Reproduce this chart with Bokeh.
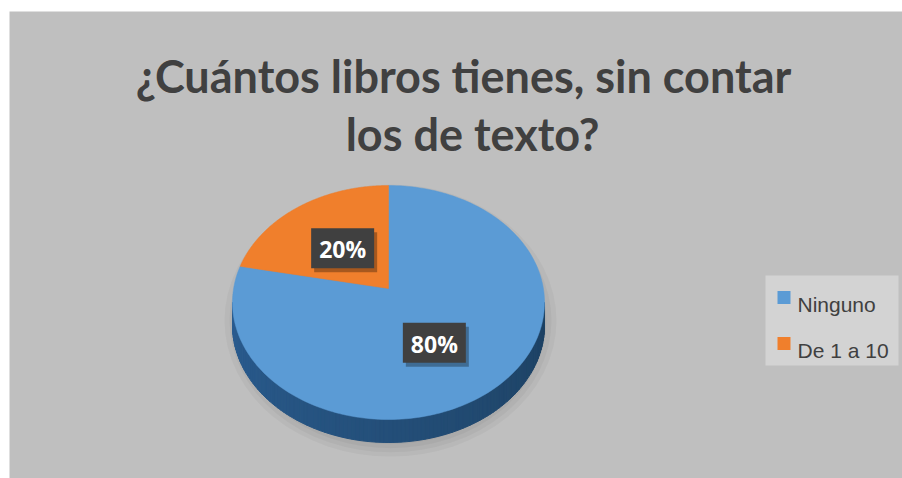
import numpy as np
from bokeh.plotting import figure
from bokeh.models import Range1d
from bokeh.core.properties import value
from bokeh.embed import file_html
from bokeh.resources import INLINE

# ---- data ----
title_lines = ["¿Cuántos libros tienes, sin contar", "los de texto?"]
categories = ["Ninguno", "De 1 a 10"]
values = [80, 20]
colors = ["#5b9bd5", "#f07f2c"]

# ---- figure (data units == screen pixels, y grows downward) ----
W, H = 902, 478
p = figure(width=W, height=H, x_range=Range1d(0, W), y_range=Range1d(H, 0),
           output_backend="svg", toolbar_location=None, title=None,
           x_axis_location=None, y_axis_location=None, min_border=0,
           background_fill_color="white", border_fill_color="white",
           outline_line_color=None)
p.grid.visible = False

# chart area background
p.quad(left=[9], right=[902], top=[11], bottom=[478], fill_color="#bfbfbf", line_color=None)

# ---- title ----
p.text(x=[463], y=[75], text=[title_lines[0]], text_font=value("Lato"), text_font_style="bold",
       text_font_size="45px", text_color="#404040", text_align="center", text_baseline="alphabetic")
p.text(x=[472], y=[133], text=[title_lines[1]], text_font=value("Lato"), text_font_style="bold",
       text_font_size="45px", text_color="#404040", text_align="center", text_baseline="alphabetic")

# ---- 3D pie geometry ----
cx, cy = 388.0, 302.0
a, b = 156.0, 117.0
depth = 23.0
vx, vy = 388.0, 288.0

total = float(sum(values))
fracs = [v / total for v in values]
bounds = np.concatenate([[0.0], np.cumsum(fracs)])  # clockwise from 12 o'clock


def ell(t):
    return cx + a * np.cos(t), cy - b * np.sin(t)


# soft shadow
for k in range(8):
    s = 1.0 - k * 0.03
    p.ellipse(x=[390], y=[320], width=[2 * 166 * s], height=[2 * 136 * s],
              fill_color="black", fill_alpha=0.035, line_color=None)


def slice_of(tdeg):
    off = ((90.0 - tdeg) % 360.0) / 360.0
    for i in range(len(values)):
        if bounds[i] <= off < bounds[i + 1]:
            return i
    return len(values) - 1


def hex2rgb(h):
    h = h.lstrip("#")
    return [int(h[j:j + 2], 16) for j in (0, 2, 4)]


# side wall (front half)
n = 120
ts = np.linspace(180.0, 360.0, n + 1)
xs_side, ys_side, cols_side = [], [], []
for j in range(n):
    t0, t1 = np.radians(ts[j]), np.radians(ts[j + 1])
    tm = 0.5 * (ts[j] + ts[j + 1])
    i = slice_of(tm)
    r, g, bl = hex2rgb(colors[i])
    u = (tm - 180.0) / 180.0
    fr = 0.47 - 0.15 * u
    fg = 0.60 - 0.18 * u
    fb = 0.68 - 0.22 * u
    col = "#%02x%02x%02x" % (int(r * fr), int(g * fg), int(bl * fb))
    x0, y0 = ell(t0)
    x1, y1 = ell(t1)
    xs_side.append([x0, x1, x1, x0])
    ys_side.append([y0, y1, y1 + depth, y0 + depth])
    cols_side.append(col)
p.patches(xs=xs_side, ys=ys_side, fill_color=cols_side, line_color=cols_side, line_width=1)

# top faces
for i in range(len(values)):
    ang0 = np.radians(90.0 - 360.0 * bounds[i])
    ang1 = np.radians(90.0 - 360.0 * bounds[i + 1])
    t = np.linspace(ang0, ang1, 200)
    ex, ey = ell(t)
    p.patch(x=np.concatenate([[vx], ex]), y=np.concatenate([[vy], ey]),
            fill_color=colors[i], line_color=colors[i], line_width=0.5)

# data labels
for i in range(len(values)):
    mid = np.radians(90.0 - 360.0 * (bounds[i] + bounds[i + 1]) / 2.0)
    ex, ey = ell(mid)
    lx = vx + 0.5 * (ex - vx)
    ly = vy + 0.5 * (ey - vy)
    p.rect(x=[lx + 3], y=[ly + 4], width=[63], height=[40], fill_color="black",
           fill_alpha=0.3, line_color=None)
    p.rect(x=[lx], y=[ly], width=[63], height=[40], fill_color="#404040", line_color=None)
    p.text(x=[lx], y=[ly + 1], text=["%d%%" % round(100 * fracs[i])], text_font=value("Open Sans"),
           text_font_style="bold", text_font_size="23px", text_color="white",
           text_align="center", text_baseline="middle")

# legend
p.quad(left=[765], right=[898], top=[275], bottom=[365], fill_color="#d3d3d3", line_color=None)
for i, cat in enumerate(categories):
    yc = 297 + 46 * i
    p.quad(left=[777], right=[790], top=[yc - 6.5], bottom=[yc + 6.5], fill_color=colors[i],
           line_color=None)
    p.text(x=[797], y=[yc + 7], text=[cat], text_font=value("Liberation Sans"),
           text_font_size="21px", text_color="#404040", text_align="left",
           text_baseline="alphabetic")

open("out.html", "w").write(file_html(p, INLINE))
